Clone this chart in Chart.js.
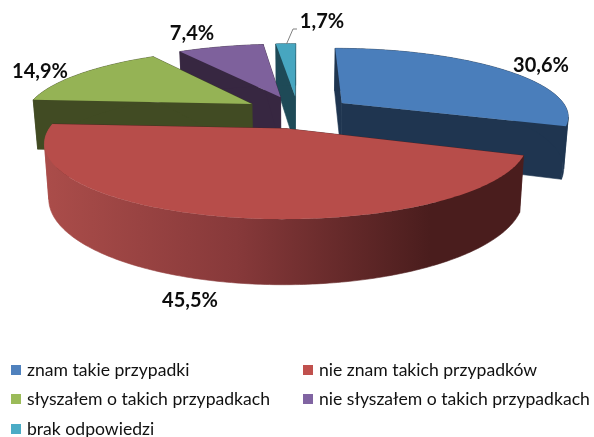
<!DOCTYPE html>
<html>
<head>
<meta charset="utf-8">
<style>
  html, body { margin: 0; padding: 0; background: #fff; }
  #wykres { display: block; }
</style>
<script src="https://cdn.jsdelivr.net/npm/chart.js@4/dist/chart.umd.min.js"></script>
</head>
<body>
<div style="width:594px;height:437px"><canvas id="wykres" width="594" height="437"></canvas></div>
<script>
// Dane
const kategorie = ["znam takie przypadki", "nie znam takich przypadków", "słyszałem o takich przypadkach", "nie słyszałem o takich przypadkach", "brak odpowiedzi"];
const wartosci = [30.6, 45.5, 14.9, 7.4, 1.7];

// Kolory
const koloryGora = ["#4a7ebb", "#b74d4a", "#95b355", "#7e619c", "#47a6c0"];
const koloryBok = ["#1f3550", "#4e2020", "#414b23", "#372741", "#1e4a57"];
const koloryLegenda = ["#4f81bd", "#c0504d", "#9bbb59", "#8064a2", "#4bacc6"];

// Rzut perspektywiczny i uklad
const widok = { x: 298, y: 112, szer: 227, gleb: 67.4, persp: 0.18, wys: 51, zbieg: 0.017 };
const kolejnosc = [4, 3, 2, 0, 1]; // od tylu do przodu
const etykietyPoz = [[541, 66], [40, 72], [192, 34], [322, 22], [190, 301]];
const etykietyIdx = [0, 2, 3, 4, 1];
const legendaPoz = [[11, 370], [303, 370], [11, 399], [303, 399], [11, 429]];

function rzut(u, v, z) {
  const w = 1 / (1 - widok.persp * v);
  return [
    widok.x + widok.szer * u * w * (1 - widok.zbieg * z),
    widok.y + widok.gleb * v * w + widok.wys * z * w,
  ];
}

function wielokat(ctx, punkty, kolor) {
  ctx.fillStyle = kolor;
  ctx.strokeStyle = kolor;
  ctx.lineWidth = 0.6;
  ctx.beginPath();
  punkty.forEach((p, n) => (n ? ctx.lineTo(p[0], p[1]) : ctx.moveTo(p[0], p[1])));
  ctx.closePath();
  ctx.fill();
  ctx.stroke();
}

// Rysuje wycinek 3D z katow policzonych przez Chart.js
function rysujWycinek(ctx, el, i) {
  const R = el.outerRadius;
  const e = el.options.offset / R;
  const mid = (el.startAngle + el.endAngle) / 2;
  const ou = Math.cos(mid) * e;
  const ov = Math.sin(mid) * e;
  const kroki = Math.max(2, Math.ceil((el.endAngle - el.startAngle) / 0.015));
  const brzeg = [];
  for (let k = 0; k <= kroki; k++) {
    const a = el.startAngle + ((el.endAngle - el.startAngle) * k) / kroki;
    brzeg.push([ou + Math.cos(a), ov + Math.sin(a)]);
  }
  let bok = koloryBok[i];
  if (i === 1) {
    bok = ctx.createLinearGradient(43, 0, 430, 0);
    bok.addColorStop(0, "#ab4d4a");
    bok.addColorStop(0.5, "#87393a");
    bok.addColorStop(1, "#4a1d1d");
  }
  // sciany ciecia
  const p0 = rzut(ou, ov, 0);
  const p1 = rzut(ou, ov, 1);
  const pierwszy = brzeg[0];
  const ostatni = brzeg[brzeg.length - 1];
  wielokat(ctx, [p0, rzut(pierwszy[0], pierwszy[1], 0), rzut(pierwszy[0], pierwszy[1], 1), p1], koloryBok[i]);
  wielokat(ctx, [p0, rzut(ostatni[0], ostatni[1], 0), rzut(ostatni[0], ostatni[1], 1), p1], koloryBok[i]);
  // sciana zewnetrzna, dzielona tam gdzie brzeg zawraca (inaczej zostaje dziura)
  const gora = brzeg.map(p => rzut(p[0], p[1], 0));
  const dolny = brzeg.map(p => rzut(p[0], p[1], 1));
  let start = 0;
  for (let k = 1; k <= kroki; k++) {
    const zawrot = k < kroki && (gora[k][0] - gora[k - 1][0]) * (gora[k + 1][0] - gora[k][0]) < 0;
    if (zawrot || k === kroki) {
      wielokat(ctx, gora.slice(start, k + 1).concat(dolny.slice(start, k + 1).reverse()), bok);
      start = k;
    }
  }
  // wierzch
  ctx.fillStyle = koloryGora[i];
  ctx.beginPath();
  ctx.moveTo(p0[0], p0[1]);
  gora.forEach(q => ctx.lineTo(q[0], q[1]));
  ctx.closePath();
  ctx.fill();
}

const tort3d = {
  id: "tort3d",
  beforeDatasetDraw(chart) {
    const arcs = chart.getDatasetMeta(0).data;
    kolejnosc.forEach(i => rysujWycinek(chart.ctx, arcs[i], i));
    return false;
  },
  afterDraw(chart) {
    const ctx = chart.ctx;
    ctx.save();
    // linia odniesienia dla 1,7%
    ctx.strokeStyle = "#808080";
    ctx.lineWidth = 1;
    ctx.beginPath();
    ctx.moveTo(286.5, 44);
    ctx.lineTo(293, 29);
    ctx.lineTo(297, 29);
    ctx.stroke();
    // etykiety procentowe
    ctx.fillStyle = "#0d0d0d";
    ctx.font = "bold 20px Lato";
    ctx.textAlign = "center";
    ctx.textBaseline = "middle";
    etykietyPoz.forEach((p, n) => {
      const txt = wartosci[etykietyIdx[n]].toFixed(1).replace(".", ",") + "%";
      ctx.fillText(txt, p[0], p[1]);
    });
    // legenda
    ctx.font = "17.6px Lato";
    ctx.textAlign = "left";
    kategorie.forEach((nazwa, i) => {
      const p = legendaPoz[i];
      ctx.fillStyle = koloryLegenda[i];
      ctx.fillRect(p[0], p[1] - 5, 10, 10);
      ctx.fillStyle = "#111";
      ctx.fillText(nazwa, p[0] + 16, p[1]);
    });
    ctx.restore();
  },
};

new Chart(document.getElementById("wykres"), {
  type: "pie",
  data: {
    labels: kategorie,
    datasets: [{ data: wartosci, backgroundColor: koloryGora, borderWidth: 0, offset: 47 }],
  },
  options: {
    responsive: false,
    animation: false,
    plugins: { legend: { display: false }, tooltip: { enabled: false } },
  },
  plugins: [tort3d],
});
</script>
</body>
</html>
